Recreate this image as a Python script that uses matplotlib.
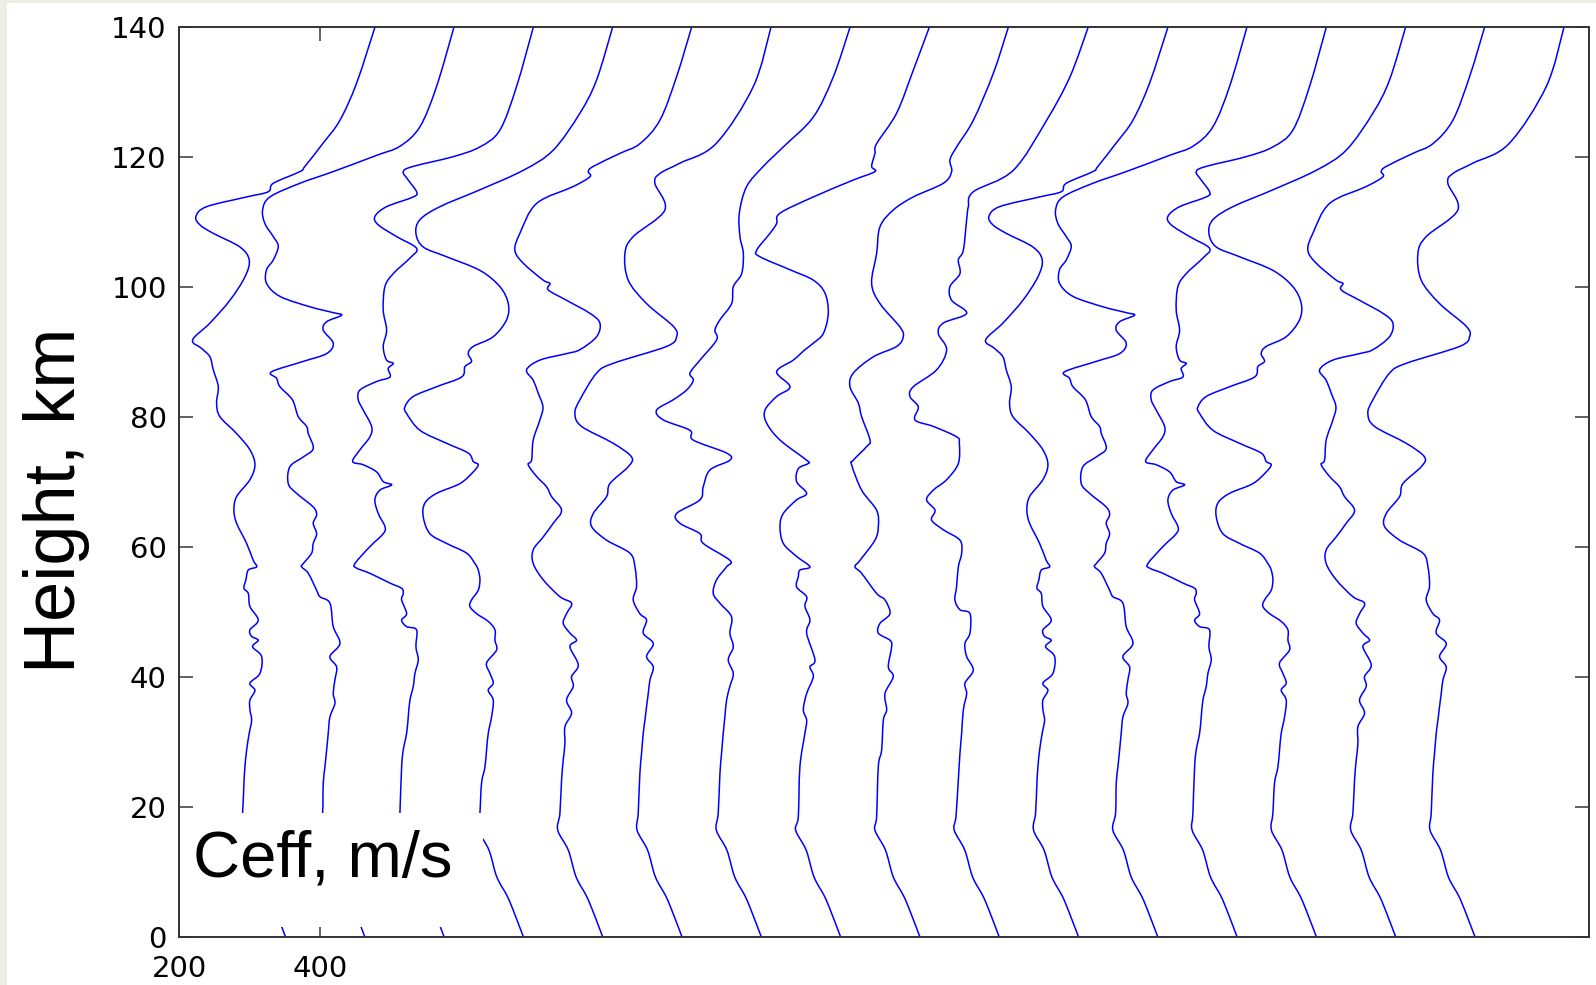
import matplotlib
matplotlib.use("Agg")
import matplotlib.pyplot as plt
from matplotlib.patches import PathPatch, Rectangle
from matplotlib.path import Path

plt.rcParams["font.family"] = ["Liberation Sans", "DejaVu Sans"]

# Effective sound speed profiles: (height km, Ceff m/s), from the top down.
ceff_0 = [(140, 477.6), (131.4, 451.6), (125.7, 428.0), (122.2, 404.3), (118.6, 378.3),
          (117.8, 371.2), (116.0, 333.4), (114.7, 326.3), (113.9, 295.6), (112.4, 238.8),
          (110.9, 223.7), (109.6, 229.4), (108.3, 248.3), (106.2, 286.1), (104.2, 299.3),
          (101.6, 293.2), (98.0, 271.9), (94.5, 243.6), (91.9, 219.0), (90.6, 231.7),
          (89.3, 243.6), (87.3, 248.3), (84.7, 255.4), (82.2, 253.0), (80.1, 257.7),
          (77.5, 281.4), (75.0, 300.3), (72.7, 307.4), (70.4, 300.3), (67.8, 281.4),
          (65.7, 277.6), (63.7, 281.4), (60.6, 295.6), (58.0, 305.0), (57.0, 309.8),
          (56.5, 298.0), (55.0, 294.6), (53.7, 291.8), (52.9, 298.0), (50.9, 300.3),
          (48.8, 312.1), (47.3, 300.3), (46.3, 302.7), (45.7, 312.1), (44.7, 304.1),
          (43.2, 316.9), (40.6, 314.5), (39.1, 300.3), (38.0, 307.4), (36.5, 300.3),
          (35.0, 300.3), (33.4, 302.7), (31.4, 299.3), (28.8, 295.6), (26.2, 293.2),
          (23.7, 291.8), (19.1, 289.9)]

ceff_1 = [(140, 477.2), (130.9, 452.6), (124.7, 429.0), (121.7, 400.6), (120.3, 367.5),
          (117.8, 306.0), (116.0, 258.7), (113.9, 216.2), (111.9, 205.8), (109.8, 209.1),
          (107.8, 220.9), (106.3, 228.0), (104.2, 220.9), (102.7, 211.4), (100.6, 211.4),
          (98.6, 230.4), (97.0, 273.0), (96.1, 306.0), (95.7, 317.8), (94.7, 296.6),
          (93.4, 291.8), (91.4, 306.0), (89.8, 296.6), (88.6, 263.5), (87.0, 218.5),
          (86.0, 225.6), (84.7, 230.4), (82.7, 248.0), (80.1, 256.4), (78.6, 268.2),
          (77.5, 270.6), (75.2, 277.6), (73.9, 263.5), (72.4, 244.5), (69.8, 242.2),
          (68.3, 254.0), (66.2, 277.6), (65.0, 282.4), (63.7, 277.6), (62.1, 282.4),
          (60.6, 277.6), (59.1, 275.3), (57.5, 263.5), (57.0, 261.1), (56.0, 270.6),
          (53.4, 282.4), (52.4, 287.1), (51.4, 301.3), (47.8, 306.0), (45.2, 315.5),
          (43.2, 301.3), (41.6, 310.8), (39.6, 308.4), (37.5, 306.0), (36.0, 308.4),
          (33.9, 301.3), (31.4, 298.9), (28.8, 296.6), (26.2, 294.2), (23.7, 291.8),
          (19.1, 290.9)]

ceff_2 = [(140, 477.3), (130.9, 453.6), (124.2, 430.0), (121.6, 401.6), (120.1, 363.8),
          (118.6, 307.0), (117.8, 292.8), (116.5, 299.9), (114.7, 311.7), (113.9, 307.0),
          (112.4, 269.2), (110.9, 252.6), (109.6, 257.4), (107.8, 283.4), (106.0, 311.7),
          (104.5, 302.3), (102.1, 278.6), (100.1, 266.8), (96.5, 264.4), (93.4, 269.2),
          (90.9, 264.4), (88.8, 269.2), (88.3, 278.6), (87.5, 271.5), (86.2, 273.9),
          (85.5, 255.0), (84.2, 231.4), (82.7, 229.0), (81.1, 236.1), (78.6, 247.9),
          (77.0, 245.5), (75.0, 231.4), (73.2, 221.0), (72.7, 236.1), (71.6, 255.0),
          (70.1, 264.5), (69.6, 276.3), (68.8, 259.7), (67.3, 252.6), (65.2, 257.4),
          (63.2, 266.8), (62.1, 264.5), (60.1, 245.5), (57.5, 224.3), (56.8, 226.6),
          (56.0, 245.5), (54.5, 273.9), (53.7, 290.5), (52.9, 292.8), (51.9, 290.5),
          (49.8, 297.6), (48.8, 290.5), (47.8, 297.6), (47.3, 311.7), (44.7, 310.8),
          (42.7, 314.1), (40.6, 309.4), (38.6, 307.0), (36.5, 302.3), (33.9, 299.9),
          (31.4, 297.6), (28.8, 292.8), (26.2, 290.5), (19.1, 288.1)]

ceff_3 = [(140, 477.3), (131.9, 454.6), (126.8, 431.0), (121.1, 393.1), (118.0, 350.6),
          (115.0, 289.1), (112.4, 232.3), (110.4, 204.0), (108.3, 198.3), (106.2, 208.7),
          (104.7, 241.8), (102.6, 289.1), (100.1, 317.4), (97.5, 329.3), (95.0, 326.9),
          (92.4, 308.0), (90.9, 279.6), (89.8, 272.5), (88.6, 277.2), (87.8, 267.8),
          (86.2, 263.1), (84.7, 227.6), (83.2, 194.5), (81.6, 182.7), (80.6, 185.0),
          (78.0, 204.0), (76.0, 241.8), (74.5, 272.5), (73.2, 279.6), (72.7, 286.7),
          (71.6, 279.6), (69.8, 260.7), (68.3, 227.6), (66.8, 211.0), (64.7, 208.7),
          (62.1, 218.1), (60.6, 241.8), (59.1, 270.2), (57.5, 282.0), (56.5, 286.7),
          (55.0, 289.1), (53.4, 286.7), (51.9, 277.2), (50.9, 274.9), (49.8, 284.3),
          (48.6, 300.9), (47.3, 310.4), (45.7, 310.4), (44.2, 312.7), (42.2, 298.5),
          (40.6, 303.3), (39.1, 308.0), (38.0, 300.9), (36.5, 308.0), (33.9, 305.6),
          (31.4, 300.9), (28.8, 298.5), (26.2, 296.2), (23.7, 291.4), (19.1, 289.1)]

ceff_4 = [(140, 476.9), (132.4, 455.6), (125.7, 431.9), (122.1, 403.6), (120.6, 375.2),
          (118.6, 337.4), (117.8, 330.3), (117.0, 332.6), (115.5, 309.0), (112.9, 257.0),
          (108.3, 233.3), (105.7, 226.2), (103.7, 238.1), (101.1, 266.4), (100.6, 275.9),
          (99.6, 273.5), (98.0, 299.5), (96.0, 332.6), (94.5, 346.8), (92.4, 342.1),
          (90.4, 318.4), (89.8, 299.5), (88.8, 261.7), (87.3, 242.8), (85.7, 252.2),
          (83.7, 259.3), (81.6, 266.0), (79.6, 261.7), (76.5, 252.2), (73.4, 249.9),
          (72.7, 245.1), (70.9, 257.0), (69.3, 271.2), (67.8, 278.2), (65.7, 292.4),
          (63.7, 280.6), (61.6, 266.4), (59.6, 252.2), (57.5, 252.2), (55.0, 266.4),
          (52.4, 290.1), (51.4, 306.6), (49.8, 299.5), (48.3, 294.8), (46.8, 304.3),
          (45.7, 313.7), (44.7, 304.3), (41.9, 316.1), (40.1, 306.6), (38.6, 309.0),
          (36.5, 299.5), (34.5, 306.6), (32.4, 297.2), (29.8, 297.2), (27.3, 294.8),
          (24.2, 292.4), (19.1, 290.1)]

ceff_5 = [(140, 477.0), (130.9, 452.0), (122.1, 399.0), (119.1, 347.8), (117.5, 319.4),
          (116.0, 312.3), (111.9, 326.5), (107.8, 281.6), (105.2, 269.8), (101.1, 274.5),
          (97.5, 300.5), (94.0, 338.4), (92.4, 343.1), (90.9, 328.9), (88.3, 253.2),
          (86.8, 229.6), (82.7, 206.0), (80.6, 198.8), (78.6, 208.3), (76.0, 253.2),
          (73.9, 279.2), (72.4, 274.5), (69.8, 248.5), (67.8, 243.8), (65.2, 224.9),
          (63.2, 222.5), (61.1, 243.8), (59.1, 276.9), (57.0, 284.0), (54.0, 286.3),
          (51.9, 281.6), (49.8, 291.0), (48.8, 300.5), (46.8, 295.8), (45.2, 310.0),
          (43.2, 300.5), (41.6, 310.0), (39.6, 305.3), (37.5, 302.9), (35.5, 300.5),
          (33.4, 298.2), (31.4, 295.8), (28.3, 293.4), (25.2, 291.0), (19.1, 288.7)]

ceff_6 = [(140, 476.6), (132.4, 453.0), (126.2, 424.6), (121.6, 382.0), (118.6, 353.6),
          (115.5, 330.0), (111.4, 319.6), (107.8, 320.5), (105.2, 325.3), (102.1, 322.9),
          (100.1, 311.1), (97.5, 308.7), (95.0, 292.1), (93.4, 285.0), (91.9, 287.4),
          (88.8, 263.8), (86.8, 249.6), (85.7, 254.3), (84.2, 244.9), (82.7, 225.9),
          (81.1, 202.2), (79.6, 211.7), (78.0, 249.5), (76.5, 254.2), (74.5, 301.5),
          (73.4, 306.2), (71.9, 277.9), (69.3, 268.4), (67.3, 263.7), (65.2, 230.6),
          (63.7, 235.3), (62.1, 263.7), (60.6, 268.4), (58.0, 306.2), (57.0, 301.5),
          (55.0, 287.3), (52.9, 282.6), (51.4, 292.1), (49.3, 308.6), (46.8, 306.2),
          (44.7, 311.0), (42.7, 303.9), (40.6, 311.0), (38.6, 306.2), (36.5, 301.5),
          (33.9, 299.1), (31.4, 296.8), (28.3, 294.4), (25.2, 292.1), (19.1, 289.7)]

ceff_7 = [(140, 476.6), (133.4, 453.9), (126.8, 430.3), (122.1, 401.9), (120.6, 399.5),
          (118.6, 394.8), (117.8, 399.5), (116.5, 368.8), (113.9, 312.1), (111.4, 264.8),
          (109.8, 260.0), (108.3, 250.6), (105.7, 231.7), (104.7, 236.4), (102.7, 279.0),
          (101.1, 312.1), (99.1, 328.6), (96.0, 333.3), (92.9, 326.3), (91.4, 312.1),
          (90.4, 300.2), (88.8, 283.7), (87.0, 260.0), (84.7, 279.0), (83.2, 260.0),
          (81.1, 243.5), (79.1, 245.9), (76.5, 264.8), (73.4, 302.6), (72.9, 305.0),
          (72.1, 290.8), (70.1, 288.4), (68.3, 302.6), (67.3, 288.4), (65.2, 269.5),
          (63.2, 264.8), (60.6, 269.5), (58.6, 288.4), (57.0, 307.3), (56.5, 293.1),
          (55.5, 290.8), (53.9, 288.4), (52.4, 302.6), (50.9, 300.2), (48.8, 307.3),
          (46.8, 302.6), (42.7, 314.4), (41.6, 307.3), (40.1, 312.1), (37.5, 302.6),
          (35.0, 297.9), (33.4, 302.6), (31.4, 300.2), (26.3, 293.1), (18.6, 290.8)]

ceff_8 = [(140, 476.2), (132.9, 454.9), (125.7, 426.6), (121.6, 402.9), (119.6, 393.4),
          (117.8, 395.8), (116.0, 384.0), (113.9, 341.4), (111.9, 313.1), (109.3, 294.1),
          (105.2, 289.4), (100.6, 282.3), (97.5, 294.1), (93.9, 322.5), (92.4, 327.2),
          (90.9, 317.8), (89.3, 284.7), (86.8, 256.3), (84.7, 251.6), (82.2, 263.4),
          (80.1, 268.1), (76.5, 280.0), (75.5, 275.2), (73.4, 256.3), (72.7, 253.9),
          (68.8, 268.1), (65.7, 289.4), (63.2, 291.8), (61.1, 287.0), (58.0, 265.8),
          (57.0, 258.7), (56.0, 268.1), (52.9, 289.4), (51.9, 301.2), (49.8, 308.3),
          (48.3, 294.1), (46.8, 291.8), (45.7, 308.3), (44.7, 310.7), (41.6, 306.0),
          (40.1, 313.0), (37.5, 301.2), (35.0, 303.6), (33.4, 298.9), (28.8, 296.5),
          (26.3, 291.8), (18.6, 289.4)]

ceff_9 = [(140, 477.0), (132.4, 451.2), (125.7, 418.1), (118.0, 370.8), (114.7, 314.1),
          (112.4, 307.0), (110.4, 304.6), (105.7, 299.9), (104.2, 292.8), (102.1, 295.1),
          (100.1, 280.9), (98.0, 283.3), (96.0, 304.6), (94.5, 271.5), (92.9, 264.4),
          (90.4, 276.2), (87.3, 262.0), (84.7, 228.9), (83.2, 224.2), (81.6, 236.0),
          (79.6, 231.3), (78.6, 257.3), (77.0, 290.4), (76.0, 294.2), (72.9, 292.8),
          (70.4, 276.2), (68.8, 257.3), (67.3, 247.8), (65.7, 259.7), (64.2, 254.9),
          (62.7, 271.5), (61.1, 295.1), (59.1, 297.5), (57.0, 292.8), (54.0, 290.4),
          (51.9, 288.0), (50.4, 295.1), (49.8, 309.3), (46.8, 309.3), (45.2, 302.2),
          (43.2, 304.6), (41.1, 314.0), (39.1, 302.2), (37.5, 304.6), (35.0, 299.9),
          (31.4, 297.5), (28.3, 295.1), (24.2, 292.8), (18.6, 289.5)]

# troposphere, the same for every profile
tropo_h = [16.5, 13.4, 9.3, 6.3, 3.7, 0.0]
tropo_c = [287.0, 302.0, 313.0, 328.0, 338.0, 351.0]

# 16 profiles, each shifted right by a constant step; the set of 10 repeats
profile_order = [0, 1, 2, 3, 4, 5, 6, 7, 8, 9, 0, 1, 2, 3, 4, 5]
shift_step = 112.5

y_ticks = [0, 20, 40, 60, 80, 100, 120, 140]
x_ticks = [200, 400]


def smooth_path(xs, ys):
    """Catmull-Rom curve through the points, as cubic Bezier segments."""
    pts = list(zip(xs, ys))
    n = len(pts)
    verts = [pts[0]]
    codes = [Path.MOVETO]
    for i in range(n - 1):
        p0 = pts[i - 1] if i > 0 else pts[i]
        p1 = pts[i]
        p2 = pts[i + 1]
        p3 = pts[i + 2] if i + 2 < n else pts[i + 1]
        c1 = (p1[0] + (p2[0] - p0[0]) / 6, p1[1] + (p2[1] - p0[1]) / 6)
        c2 = (p2[0] - (p3[0] - p1[0]) / 6, p2[1] - (p3[1] - p1[1]) / 6)
        verts += [c1, c2, p2]
        codes += [Path.CURVE4] * 3
    return Path(verts, codes)


def main() -> None:
    profiles = [ceff_0, ceff_1, ceff_2, ceff_3, ceff_4,
                ceff_5, ceff_6, ceff_7, ceff_8, ceff_9]

    fig = plt.figure(figsize=(15.96, 9.85), dpi=100, facecolor="#eeeee4")
    fig.patches.append(Rectangle((7 / 1596, 0), 1, 1 - 3 / 985, transform=fig.transFigure,
                                 facecolor="white", edgecolor="none", zorder=-10))
    ax = fig.add_axes([0.1123, 0.0484, 0.8833, 0.9239])

    for i, idx in enumerate(profile_order):
        prof = profiles[idx]
        h = [p[0] for p in prof] + tropo_h
        c = [p[1] + i * shift_step for p in prof] + [v + i * shift_step for v in tropo_c]
        ax.add_patch(PathPatch(smooth_path(c, h), facecolor="none",
                               edgecolor="#0000ff", lw=1.1, zorder=2))

    ax.set_xlim(200, 2200)
    ax.set_ylim(0, 140)
    ax.set_xticks(x_ticks)
    ax.set_yticks(y_ticks)
    ax.tick_params(direction="in", length=10, width=1.3, color="#555555",
                   top=True, right=True, labelsize=21)
    ax.tick_params(axis="y", pad=9)
    ax.tick_params(axis="x", pad=13)
    for lab in ax.get_xticklabels() + ax.get_yticklabels():
        lab.set_family("DejaVu Sans")
    for sp in ax.spines.values():
        sp.set_color("#333333")
        sp.set_linewidth(1.4)

    # white label panel over the lower-left corner
    ax.add_patch(Rectangle((201, 1.6), 430, 17.5, facecolor="white",
                           edgecolor="none", zorder=3))
    ax.text(219, 9.3, "Ceff, m/s", fontsize=47, ha="left", va="baseline", zorder=4)

    fig.text(56 / 1596, 1 - 500 / 985, "Height, km", rotation=90, fontsize=52,
             ha="center", va="center")

    fig.savefig("out.png", dpi=100)
    plt.close(fig)


if __name__ == "__main__":
    main()
